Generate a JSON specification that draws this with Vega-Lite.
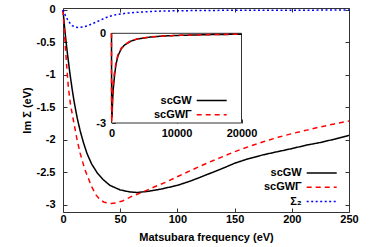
{
  "$schema": "https://vega.github.io/schema/vega-lite/v6.json",
  "width": 286,
  "height": 204,
  "autosize": "none",
  "padding": {"left": 63, "top": 8, "right": 33, "bottom": 35},
  "background": "white",
  "config": {
    "font": "Liberation Sans",
    "view": {"stroke": "#333", "strokeWidth": 1},
    "axis": {
      "labelFont": "Liberation Sans", "labelFontWeight": "bold", "labelFontSize": 11, "labelColor": "black",
      "titleFont": "Liberation Sans", "titleFontWeight": "bold", "titleFontSize": 11, "titleColor": "black",
      "tickColor": "#333", "domainColor": "#333", "grid": false, "labelFlush": false, "labelOverlap": false,
      "labelExpr": "toString(datum.value)"
    },
    "legend": {
      "labelFont": "Liberation Sans", "labelFontWeight": "bold", "labelFontSize": 11, "labelColor": "black",
      "orient": "none", "title": null, "padding": 0, "symbolType": "stroke", "symbolSize": 900, "symbolStrokeWidth": 1.5,
      "labelAlign": "right", "labelOffset": -36, "clipHeight": 14, "rowPadding": 0.3
    }
  },
  "datasets": {
    "curves": [
      {"freq": 0, "series": "scGW", "im": 0},
      {"freq": 1, "series": "scGW", "im": -0.2},
      {"freq": 2, "series": "scGW", "im": -0.38},
      {"freq": 3, "series": "scGW", "im": -0.54},
      {"freq": 4, "series": "scGW", "im": -0.69},
      {"freq": 6, "series": "scGW", "im": -0.97},
      {"freq": 8, "series": "scGW", "im": -1.22},
      {"freq": 10, "series": "scGW", "im": -1.44},
      {"freq": 12.5, "series": "scGW", "im": -1.67},
      {"freq": 15, "series": "scGW", "im": -1.86},
      {"freq": 18, "series": "scGW", "im": -2.05},
      {"freq": 21, "series": "scGW", "im": -2.21},
      {"freq": 25, "series": "scGW", "im": -2.37},
      {"freq": 30, "series": "scGW", "im": -2.51},
      {"freq": 35, "series": "scGW", "im": -2.61},
      {"freq": 41, "series": "scGW", "im": -2.7},
      {"freq": 50, "series": "scGW", "im": -2.77},
      {"freq": 58, "series": "scGW", "im": -2.8},
      {"freq": 65, "series": "scGW", "im": -2.81},
      {"freq": 75, "series": "scGW", "im": -2.79},
      {"freq": 85, "series": "scGW", "im": -2.76},
      {"freq": 100, "series": "scGW", "im": -2.7},
      {"freq": 112, "series": "scGW", "im": -2.63},
      {"freq": 125, "series": "scGW", "im": -2.54},
      {"freq": 138, "series": "scGW", "im": -2.45},
      {"freq": 150, "series": "scGW", "im": -2.36},
      {"freq": 162, "series": "scGW", "im": -2.29},
      {"freq": 175, "series": "scGW", "im": -2.23},
      {"freq": 188, "series": "scGW", "im": -2.18},
      {"freq": 201, "series": "scGW", "im": -2.13},
      {"freq": 213, "series": "scGW", "im": -2.08},
      {"freq": 225, "series": "scGW", "im": -2.04},
      {"freq": 237, "series": "scGW", "im": -1.99},
      {"freq": 250, "series": "scGW", "im": -1.93},
      {"freq": 300, "series": "scGW", "im": -1.8},
      {"freq": 400, "series": "scGW", "im": -1.57},
      {"freq": 500, "series": "scGW", "im": -1.35},
      {"freq": 700, "series": "scGW", "im": -1.03},
      {"freq": 1000, "series": "scGW", "im": -0.75},
      {"freq": 1500, "series": "scGW", "im": -0.52},
      {"freq": 2000, "series": "scGW", "im": -0.39},
      {"freq": 3000, "series": "scGW", "im": -0.26},
      {"freq": 4000, "series": "scGW", "im": -0.19},
      {"freq": 6000, "series": "scGW", "im": -0.125},
      {"freq": 8000, "series": "scGW", "im": -0.09},
      {"freq": 11000, "series": "scGW", "im": -0.065},
      {"freq": 15000, "series": "scGW", "im": -0.045},
      {"freq": 20000, "series": "scGW", "im": -0.03},
      {"freq": 0, "series": "scGWΓ", "im": 0},
      {"freq": 1, "series": "scGWΓ", "im": -0.28},
      {"freq": 2, "series": "scGWΓ", "im": -0.55},
      {"freq": 3, "series": "scGWΓ", "im": -0.8},
      {"freq": 4.6, "series": "scGWΓ", "im": -1.18},
      {"freq": 6.5, "series": "scGWΓ", "im": -1.45},
      {"freq": 9, "series": "scGWΓ", "im": -1.69},
      {"freq": 12, "series": "scGWΓ", "im": -1.97},
      {"freq": 14.9, "series": "scGWΓ", "im": -2.2},
      {"freq": 19.2, "series": "scGWΓ", "im": -2.46},
      {"freq": 25, "series": "scGWΓ", "im": -2.72},
      {"freq": 29, "series": "scGWΓ", "im": -2.85},
      {"freq": 32.3, "series": "scGWΓ", "im": -2.92},
      {"freq": 36, "series": "scGWΓ", "im": -2.96},
      {"freq": 41, "series": "scGWΓ", "im": -2.98},
      {"freq": 46, "series": "scGWΓ", "im": -2.97},
      {"freq": 52, "series": "scGWΓ", "im": -2.94},
      {"freq": 60, "series": "scGWΓ", "im": -2.87},
      {"freq": 70, "series": "scGWΓ", "im": -2.8},
      {"freq": 79, "series": "scGWΓ", "im": -2.73},
      {"freq": 90, "series": "scGWΓ", "im": -2.65},
      {"freq": 100.8, "series": "scGWΓ", "im": -2.56},
      {"freq": 113, "series": "scGWΓ", "im": -2.46},
      {"freq": 125.6, "series": "scGWΓ", "im": -2.36},
      {"freq": 138, "series": "scGWΓ", "im": -2.27},
      {"freq": 150.3, "series": "scGWΓ", "im": -2.18},
      {"freq": 163, "series": "scGWΓ", "im": -2.1},
      {"freq": 175, "series": "scGWΓ", "im": -2.03},
      {"freq": 188, "series": "scGWΓ", "im": -1.96},
      {"freq": 201, "series": "scGWΓ", "im": -1.9},
      {"freq": 213, "series": "scGWΓ", "im": -1.85},
      {"freq": 225, "series": "scGWΓ", "im": -1.8},
      {"freq": 237, "series": "scGWΓ", "im": -1.755},
      {"freq": 250, "series": "scGWΓ", "im": -1.71},
      {"freq": 300, "series": "scGWΓ", "im": -1.6},
      {"freq": 400, "series": "scGWΓ", "im": -1.41},
      {"freq": 500, "series": "scGWΓ", "im": -1.24},
      {"freq": 700, "series": "scGWΓ", "im": -0.97},
      {"freq": 1000, "series": "scGWΓ", "im": -0.71},
      {"freq": 1500, "series": "scGWΓ", "im": -0.5},
      {"freq": 2000, "series": "scGWΓ", "im": -0.38},
      {"freq": 3000, "series": "scGWΓ", "im": -0.25},
      {"freq": 4000, "series": "scGWΓ", "im": -0.185},
      {"freq": 6000, "series": "scGWΓ", "im": -0.12},
      {"freq": 8000, "series": "scGWΓ", "im": -0.088},
      {"freq": 11000, "series": "scGWΓ", "im": -0.063},
      {"freq": 15000, "series": "scGWΓ", "im": -0.044},
      {"freq": 20000, "series": "scGWΓ", "im": -0.03},
      {"freq": 0, "series": "Σ₂", "im": 0},
      {"freq": 2, "series": "Σ₂", "im": -0.08},
      {"freq": 4, "series": "Σ₂", "im": -0.15},
      {"freq": 6, "series": "Σ₂", "im": -0.2},
      {"freq": 8, "series": "Σ₂", "im": -0.24},
      {"freq": 11, "series": "Σ₂", "im": -0.265},
      {"freq": 14, "series": "Σ₂", "im": -0.27},
      {"freq": 18, "series": "Σ₂", "im": -0.26},
      {"freq": 22, "series": "Σ₂", "im": -0.24},
      {"freq": 26, "series": "Σ₂", "im": -0.21},
      {"freq": 31, "series": "Σ₂", "im": -0.17},
      {"freq": 36, "series": "Σ₂", "im": -0.13},
      {"freq": 40, "series": "Σ₂", "im": -0.1},
      {"freq": 46, "series": "Σ₂", "im": -0.075},
      {"freq": 55, "series": "Σ₂", "im": -0.05},
      {"freq": 65, "series": "Σ₂", "im": -0.035},
      {"freq": 80, "series": "Σ₂", "im": -0.02},
      {"freq": 100, "series": "Σ₂", "im": -0.012},
      {"freq": 130, "series": "Σ₂", "im": -0.007},
      {"freq": 170, "series": "Σ₂", "im": -0.004},
      {"freq": 250, "series": "Σ₂", "im": -0.002}
    ]
  },
  "layer": [
    {
      "layer": [
        {
          "data": {"name": "curves"},
          "transform": [{"filter": "datum.freq <= 250"}],
          "mark": {"type": "line", "strokeWidth": 1.5},
          "encoding": {
            "x": {"field": "freq", "type": "quantitative",
                  "scale": {"domain": [0, 250], "nice": false, "zero": false},
                  "axis": {"orient": "bottom", "values": [0, 50, 100, 150, 200, 250], "tickSize": -4, "labelPadding": 5.5, "domain": false, "title": "Matsubara frequency (eV)", "titlePadding": 7}},
            "y": {"field": "im", "type": "quantitative",
                  "scale": {"domain": [-3.11, 0.03], "nice": false, "zero": false},
                  "axis": {"orient": "left", "values": [0, -0.5, -1, -1.5, -2, -2.5, -3], "tickSize": -4, "labelPadding": 12, "domain": false, "title": "Im Σ (eV)", "titlePadding": 4}},
            "color": {"field": "series", "type": "nominal",
                      "scale": {"domain": ["scGW", "scGWΓ", "Σ₂"], "range": ["#000000", "#ff0000", "#0000ff"]},
                      "legend": {"legendX": 242.7, "legendY": 158, "encode": {"entries": {"update": {"width": {"value": 40}, "height": {"value": 14}}}}}},
            "strokeDash": {"field": "series", "type": "nominal",
                      "scale": {"domain": ["scGW", "scGWΓ", "Σ₂"], "range": [[1, 0], [5, 4], [2, 2.5]]},
                      "legend": {"legendX": 242.7, "legendY": 158, "encode": {"entries": {"update": {"width": {"value": 40}, "height": {"value": 14}}}}}}
          }
        },
        {
          "data": {"name": "curves"},
          "transform": [{"filter": "datum.freq <= 250"}],
          "mark": {"type": "point", "opacity": 0},
          "encoding": {
            "x": {"field": "freq", "type": "quantitative",
                  "scale": {"domain": [0, 250], "nice": false, "zero": false},
                  "axis": {"orient": "top", "values": [0, 50, 100, 150, 200, 250], "tickSize": -4, "labels": false, "domain": false, "title": null}},
            "y": {"field": "im", "type": "quantitative",
                  "scale": {"domain": [-3.11, 0.03], "nice": false, "zero": false},
                  "axis": {"orient": "right", "values": [0, -0.5, -1, -1.5, -2, -2.5, -3], "tickSize": -4, "labels": false, "domain": false, "title": null}}
          }
        }
      ],
      "resolve": {"axis": {"x": "independent", "y": "independent"}}
    },
    {
      "layer": [
        {
          "data": {"values": [{}]},
          "mark": {"type": "rect", "fill": "white", "stroke": "#333", "strokeWidth": 1},
          "encoding": {
            "x": {"datum": 0, "type": "quantitative"},
            "x2": {"datum": 20000},
            "y": {"datum": -3, "type": "quantitative"},
            "y2": {"datum": 0}
          }
        },
        {
          "data": {"name": "curves"},
          "transform": [{"filter": {"field": "series", "oneOf": ["scGW", "scGWΓ"]}}],
          "mark": {"type": "line", "strokeWidth": 1.5},
          "encoding": {
            "x": {"field": "freq", "type": "quantitative",
                  "scale": {"domain": [0, 20000], "range": [48.5, 178.5], "nice": false, "zero": false},
                  "axis": {"orient": "bottom", "offset": -89, "values": [0, 10000, 20000], "tickSize": -4, "labelPadding": 8, "domain": false, "title": null}},
            "y": {"field": "im", "type": "quantitative",
                  "scale": {"domain": [-3, 0], "range": [115, 25.3], "nice": false, "zero": false},
                  "axis": {"orient": "left", "offset": -48.5, "values": [0, -3], "tickSize": -4, "labelPadding": 10, "domain": false, "title": null}},
            "color": {"field": "series", "type": "nominal",
                      "scale": {"domain": ["scGW", "scGWΓ"], "range": ["#000000", "#ff0000"]},
                      "legend": {"legendX": 132.7, "legendY": 85.5, "encode": {"entries": {"update": {"width": {"value": 40}, "height": {"value": 14}}}}}},
            "strokeDash": {"field": "series", "type": "nominal",
                      "scale": {"domain": ["scGW", "scGWΓ"], "range": [[1, 0], [5, 4]]},
                      "legend": {"legendX": 132.7, "legendY": 85.5, "encode": {"entries": {"update": {"width": {"value": 40}, "height": {"value": 14}}}}}}
          }
        }
      ]
    }
  ],
  "resolve": {"scale": {"x": "independent", "y": "independent", "color": "independent", "strokeDash": "independent"}}
}
